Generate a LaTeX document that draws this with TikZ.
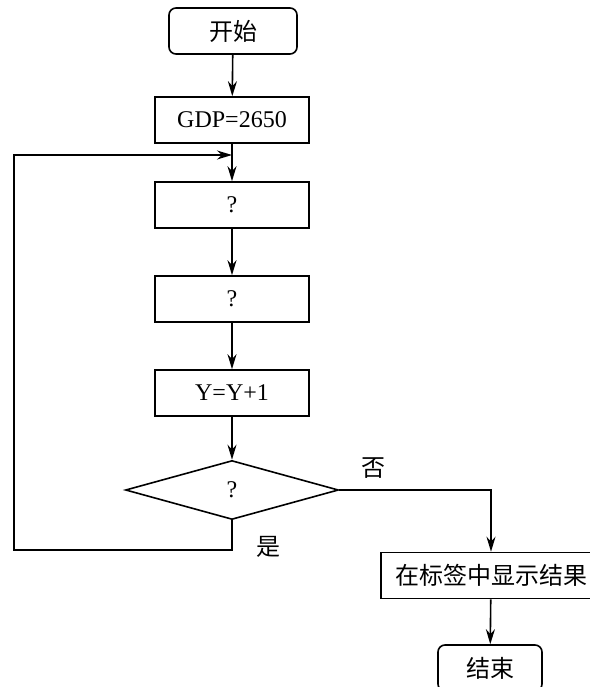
\documentclass[tikz,border=0pt]{standalone}
\usepackage{fontspec}
\setmainfont{Liberation Serif}
\newfontfamily\cjk{Noto Sans CJK SC}
\usetikzlibrary{shapes.geometric,arrows.meta}

\begin{document}
\begin{tikzpicture}[x=1pt, y=-1pt, >={Stealth[length=15pt,width=9pt]}, line width=1.6pt,
    font=\fontsize{24}{28}\selectfont]
    \tikzset{
        proc/.style={draw, minimum width=154pt, minimum height=46pt, inner sep=0pt},
        term/.style={draw, rounded corners=7pt, minimum height=46pt, inner sep=0pt},
        decide/.style={draw, diamond, aspect=3.6, minimum width=213pt, minimum height=59pt, inner sep=0pt},
    }
    \useasboundingbox (0,0) rectangle (589,687);

    \node[term, minimum width=128pt] (start) at (233,31) {\cjk 开始};
    \node[proc] (gdp) at (232,120) {GDP=2650};
    \node[proc] (q1) at (232,205) {?};
    \node[proc] (q2) at (232,299) {?};
    \node[proc] (inc) at (232,393) {Y=Y+1};
    \node[decide] (dec) at (232,490) {?};
    \node[proc, minimum width=220pt] (res) at (491,575.5) {\cjk 在标签中显示结果};
    \node[term, minimum width=104pt] (stop) at (490,668) {\cjk 结束};

    \node (no) at (373,468) {\cjk 否};
    \node (yes) at (268,547) {\cjk 是};

    \coordinate (join) at (232,155);
    \coordinate (loopbot) at (14,550);

    \draw[->] (start) -- (gdp);
    \draw[->] (gdp) -- (q1);
    \draw[->] (q1) -- (q2);
    \draw[->] (q2) -- (inc);
    \draw[->] (inc) -- (dec);
    \draw[->] (dec.east) -| (res.north);
    \draw[->] (res) -- (stop);
    \draw[->] (dec.south) |- (loopbot) |- (join); % back to the top
\end{tikzpicture}
\end{document}
